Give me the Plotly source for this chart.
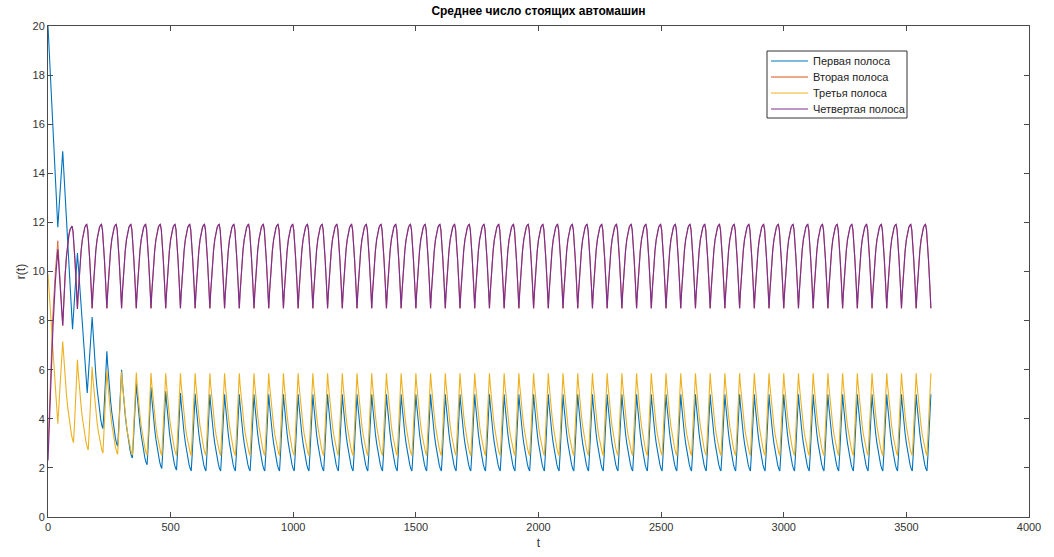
import numpy as np
import plotly.graph_objects as go

CYCLE = 60          # signal cycle length, s
N_CYCLES = 60       # simulated horizon: 0 .. 3600 s

# ---- steady-state cycle shapes (phase u within one cycle) ----
# lanes 1 and 3: queue peaks at u=0, discharges to a trough at u=44, refills by u=60
phase_13 = [0, 3, 6, 10, 15, 20, 25, 30, 35, 40, 44, 48, 52, 56, 60]
lane1_cycle = [5.0, 4.6, 4.25, 3.85, 3.38, 3.0, 2.66, 2.38, 2.13, 1.95, 1.87, 2.55, 3.3, 4.15, 5.0]
lane3_cycle = [5.85, 5.42, 5.05, 4.62, 4.12, 3.7, 3.35, 3.05, 2.8, 2.6, 2.5, 3.25, 4.05, 4.9, 5.85]
mid_13 = 10         # index of the trough in phase_13

# lanes 2 and 4: queue minimal at u=0, builds up to u=38, discharges by u=60
phase_4 = [0, 3, 6, 10, 15, 20, 25, 30, 35, 38, 42, 46, 50, 55, 60]
lane4_cycle = [8.5, 9.1, 9.65, 10.25, 10.85, 11.3, 11.6, 11.8, 11.9, 11.92, 11.7, 11.2, 10.5, 9.55, 8.5]
mid_4 = 9           # index of the peak in phase_4

# ---- start-up transients ----
lane1_head_t = [0, 40, 60, 100, 120, 160, 180]
lane1_head_v = [20.0, 11.8, 14.9, 7.65, 10.75, 5.05, 8.15]
lane1_first_cycle = 3
lane1_starts = [8.15, 6.75, 6.0, 5.45, 5.28, 5.12, 5.05, 5.02]
lane1_mids = [3.6, 2.88, 2.4, 2.13, 1.98, 1.91, 1.88]

lane3_head_t = [0, 40, 60]
lane3_head_v = [9.9, 3.8, 7.15]
lane3_first_cycle = 1
lane3_starts = [7.15, 6.4, 6.12, 5.98, 5.92, 5.88, 5.86]
lane3_mids = [3.03, 2.73, 2.6, 2.55, 2.52, 2.51]

lane4_head_t = [0, 10, 20, 30, 40, 60]
lane4_head_v = [2.3, 5.2, 7.7, 9.6, 10.9, 7.8]
lane4_first_cycle = 1
lane4_starts = [7.8, 8.47]
lane4_mids = [11.85]

lane2_head_t = [0, 10, 20, 30, 40, 60]
lane2_head_v = [2.8, 5.7, 8.3, 10.0, 11.25, 7.8]

names = ["Первая полоса", "Вторая полоса", "Третья полоса", "Четвертая полоса"]
colors = ["#0072BD", "#D95319", "#EDB120", "#7E2F8E"]
widths = [1.1, 0.8, 1.1, 1.2]


def build(head_t, head_v, k0, starts, mids, phase, cyc, imid):
    """Head transient followed by cycles k0..N_CYCLES-1, each cycle being the
    steady shape rescaled to that cycle's start / middle / next-start levels."""
    s_ss, m_ss = cyc[0], cyc[imid]
    t = list(head_t[:-1])
    v = list(head_v[:-1])
    for k in range(k0, N_CYCLES):
        j = k - k0
        s = starts[j] if j < len(starts) else s_ss
        s2 = starts[j + 1] if j + 1 < len(starts) else s_ss
        m = mids[j] if j < len(mids) else m_ss
        for i, (u, c) in enumerate(zip(phase[:-1], cyc[:-1])):
            f = (c - m_ss) / (s_ss - m_ss)
            top = s if i <= imid else s2
            t.append(k * CYCLE + u)
            v.append(m + (top - m) * f)
    t.append(N_CYCLES * CYCLE)
    v.append(s_ss)
    return np.array(t, float), np.array(v, float)


t1, r1 = build(lane1_head_t, lane1_head_v, lane1_first_cycle, lane1_starts, lane1_mids,
               phase_13, lane1_cycle, mid_13)
t3, r3 = build(lane3_head_t, lane3_head_v, lane3_first_cycle, lane3_starts, lane3_mids,
               phase_13, lane3_cycle, mid_13)
t4, r4 = build(lane4_head_t, lane4_head_v, lane4_first_cycle, lane4_starts, lane4_mids,
               phase_4, lane4_cycle, mid_4)
# lane 2 has its own start-up, then runs in step with lane 4
t2, r2 = build(lane2_head_t, lane2_head_v, lane4_first_cycle, lane4_starts, lane4_mids,
               phase_4, lane4_cycle, mid_4)

fig = go.Figure()
for (tt, rr), name, col, w in zip([(t1, r1), (t2, r2), (t3, r3), (t4, r4)], names, colors, widths):
    fig.add_trace(go.Scatter(x=tt, y=rr, mode="lines", name=name, showlegend=False,
                             line=dict(color=col, width=w)))

axis_color = "#4a4a4a"
font_family = "Liberation Sans, Arial, sans-serif"

# plot area in pixels (used to place the boxed legend)
L, R, T, B = 48, 1029, 26, 517


def px(x):
    return (x - L) / (R - L)


def py(y):
    return (B - y) / (B - T)


shapes = [dict(type="rect", xref="paper", yref="paper",
               x0=px(767), x1=px(907), y0=py(118), y1=py(51),
               line=dict(color="#333333", width=1), fillcolor="white", layer="above")]
annotations = []
for i, (name, col) in enumerate(zip(names, colors)):
    yy = 61 + 16 * i
    shapes.append(dict(type="line", xref="paper", yref="paper",
                       x0=px(771), x1=px(808), y0=py(yy), y1=py(yy),
                       line=dict(color=col, width=1), layer="above"))
    annotations.append(dict(x=px(811), y=py(yy), xref="paper", yref="paper",
                            text=name, showarrow=False, xanchor="left", yanchor="middle",
                            font=dict(family=font_family, size=11, color="#222222")))

common_axis = dict(
    showline=True, linecolor=axis_color, linewidth=1, mirror="ticks",
    ticks="inside", ticklen=5, tickcolor=axis_color, tickwidth=1,
    showgrid=False, zeroline=False, automargin=False,
    tickfont=dict(family=font_family, size=11, color="#333333"),
)

fig.update_layout(
    width=1054, height=557,
    margin=dict(l=L, r=1054 - R, t=T, b=557 - B),
    paper_bgcolor="white", plot_bgcolor="white",
    title=dict(text="<b>Среднее число стоящих автомашин</b>",
               x=(L + R) / 2 / 1054, xanchor="center", y=1 - 11 / 557, yanchor="middle",
               yref="container", font=dict(family=font_family, size=12, color="black")),
    xaxis=dict(range=[0, 4000], tickvals=list(range(0, 4001, 500)),
               title=dict(text="t", standoff=6,
                          font=dict(family=font_family, size=12, color="#333333")),
               **common_axis),
    yaxis=dict(range=[0, 20], tickvals=list(range(0, 21, 2)),
               title=dict(text="r(t)", standoff=4,
                          font=dict(family=font_family, size=12, color="#333333")),
               **common_axis),
    shapes=shapes,
    annotations=annotations,
    showlegend=False,
)

fig.write_html("out.html")
